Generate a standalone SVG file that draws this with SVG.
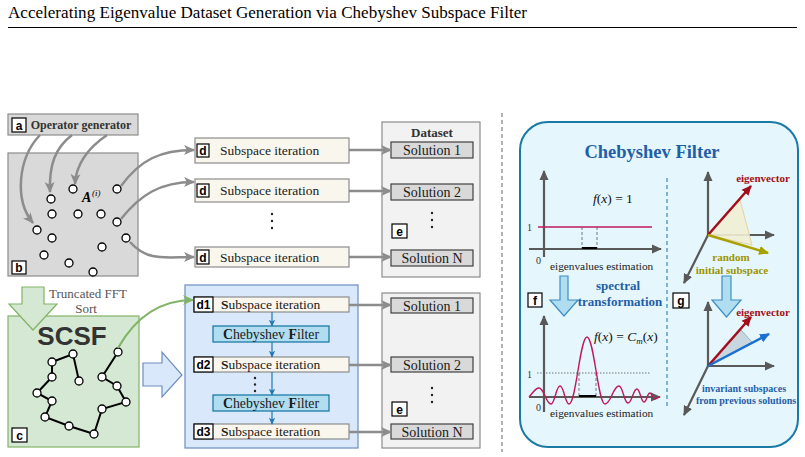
<svg xmlns="http://www.w3.org/2000/svg" width="805" height="457" viewBox="0 0 805 457">
<style>
.serif{font-family:"Liberation Serif","Times New Roman",serif}
.lbl rect{fill:#fff;stroke:#000;stroke-width:1.2}
.lbl text{font-family:"Liberation Sans",Arial,sans-serif;font-weight:bold;font-size:12px;fill:#000;text-anchor:middle}
.dbox{fill:#f9f7ed;stroke:#8c8c8c;stroke-width:1.2}
.sol{fill:#d9d9d9;stroke:#404040;stroke-width:1.2}
.ds{fill:#f2f2f2;stroke:#8c8c8c;stroke-width:1.2}
.txt{font-family:"Liberation Serif","Times New Roman",serif;font-size:13.5px;fill:#1a1a1a}
.soltxt{font-family:"Liberation Serif","Times New Roman",serif;font-size:14px;fill:#1a1a1a;text-anchor:middle}
.gar{fill:none;stroke:#8c8c8c;stroke-width:2.5}
.cf{fill:#b1ddf0;stroke:#10739e;stroke-width:1.2}
.node{fill:#fff;stroke:#000;stroke-width:1.3}
.ax{stroke:#595959;stroke-width:2.2;fill:none}
.bar{stroke:#1f77b4;stroke-width:1.2;fill:none}
.dot{fill:#222}
.small{font-family:"Liberation Serif","Times New Roman",serif;font-size:10px;fill:#333}
.est{font-family:"Liberation Serif","Times New Roman",serif;font-size:11.3px;fill:#222}
.math{font-family:"Liberation Serif","Times New Roman",serif;font-size:13.5px;fill:#111}
.bl{font-family:"Liberation Serif","Times New Roman",serif;font-weight:bold;fill:#1f5fa8;text-anchor:middle}
.red{font-family:"Liberation Serif","Times New Roman",serif;font-weight:bold;font-size:11px;fill:#a50d1a;text-anchor:middle}
.cft{font-family:"Liberation Serif","Times New Roman",serif;font-size:13.8px;fill:#1a1a1a;text-anchor:middle}
</style>
<defs>
<marker id="mg" markerUnits="userSpaceOnUse" markerWidth="11" markerHeight="11" viewBox="0 0 10 10" refX="9" refY="5" orient="auto"><path d="M0,0.5 L10,5 L0,9.5 L2.5,5 Z" fill="#8c8c8c"/></marker>
<marker id="mgr" markerUnits="userSpaceOnUse" markerWidth="11" markerHeight="11" viewBox="0 0 10 10" refX="9" refY="5" orient="auto"><path d="M0,0.5 L10,5 L0,9.5 L2.5,5 Z" fill="#82b366"/></marker>
<marker id="mb" markerUnits="userSpaceOnUse" markerWidth="7" markerHeight="7" viewBox="0 0 10 10" refX="9" refY="5" orient="auto"><path d="M0,0.5 L10,5 L0,9.5 L2.5,5 Z" fill="#1f77b4"/></marker>
<marker id="ma" markerUnits="userSpaceOnUse" markerWidth="10" markerHeight="10" viewBox="0 0 10 10" refX="9" refY="5" orient="auto"><path d="M0,0.5 L10,5 L0,9.5 Z" fill="#595959"/></marker>
<marker id="mr" markerUnits="userSpaceOnUse" markerWidth="10" markerHeight="10" viewBox="0 0 10 10" refX="9" refY="5" orient="auto"><path d="M0,0.5 L10,5 L0,9.5 Z" fill="#a50d1a"/></marker>
<marker id="mo" markerUnits="userSpaceOnUse" markerWidth="10" markerHeight="10" viewBox="0 0 10 10" refX="9" refY="5" orient="auto"><path d="M0,0.5 L10,5 L0,9.5 Z" fill="#a9a100"/></marker>
<marker id="mbl" markerUnits="userSpaceOnUse" markerWidth="10" markerHeight="10" viewBox="0 0 10 10" refX="9" refY="5" orient="auto"><path d="M0,0.5 L10,5 L0,9.5 Z" fill="#1c6fd1"/></marker>
</defs>
<rect width="805" height="457" fill="#fff"/>

<g id="title">
<text x="8" y="18" class="serif" font-size="16.5" fill="#000" textLength="519" lengthAdjust="spacingAndGlyphs">Accelerating Eigenvalue Dataset Generation via Chebyshev Subspace Filter</text>
<line x1="8" y1="27.5" x2="797" y2="27.5" stroke="#000" stroke-width="1"/>
</g>

<g id="node-a">
<rect x="8" y="114" width="130" height="21" fill="#d9d9d9" stroke="#8c8c8c" stroke-width="1.2"/>
<g class="lbl"><rect x="12" y="118" width="14" height="14"/><text x="19" y="129.5">a</text></g>
<text x="81" y="129" class="serif" font-size="12" font-weight="bold" fill="#333" text-anchor="middle">Operator generator</text>
</g>

<g id="node-b">
<rect x="8" y="153" width="130" height="123" fill="#d9d9d9" stroke="#8c8c8c" stroke-width="1.2"/>
<g class="lbl"><rect x="12" y="261" width="14" height="13"/><text x="19" y="272">b</text></g>
<text x="82" y="202" class="serif" font-size="14" font-weight="bold" font-style="italic" fill="#000">A</text>
<text x="92" y="196" class="serif" font-size="9" font-style="italic" fill="#000">(i)</text>
<g class="node">
<circle cx="73" cy="189" r="4"/><circle cx="51" cy="199" r="4"/><circle cx="117" cy="189" r="4"/>
<circle cx="52" cy="214" r="4"/><circle cx="78" cy="214" r="4"/><circle cx="101" cy="214" r="4"/>
<circle cx="117" cy="222" r="4"/><circle cx="37" cy="230" r="4"/><circle cx="52" cy="238" r="4"/>
<circle cx="126" cy="238" r="4"/><circle cx="102" cy="247" r="4"/><circle cx="44" cy="255" r="4"/>
<circle cx="69" cy="263" r="4"/><circle cx="93" cy="272" r="4"/>
</g>
</g>

<g id="node-c">
<rect x="8" y="316" width="131" height="131" fill="#d5e8d4" stroke="#82b366" stroke-width="1.2"/>
<g class="lbl"><rect x="12" y="428" width="15" height="14"/><text x="19.5" y="439.5">c</text></g>
<polyline points="118,352 102,377 117,386 126,402 102,409 94,434 69,426 45,417 52,401 37,393 52,377 52,362 73,354 79,381" fill="none" stroke="#000" stroke-width="2"/>
<g class="node">
<circle cx="118" cy="352" r="4"/><circle cx="102" cy="377" r="4"/><circle cx="117" cy="386" r="4"/>
<circle cx="126" cy="402" r="4"/><circle cx="102" cy="409" r="4"/><circle cx="94" cy="434" r="4"/>
<circle cx="69" cy="426" r="4"/><circle cx="45" cy="417" r="4"/><circle cx="52" cy="401" r="4"/>
<circle cx="37" cy="393" r="4"/><circle cx="52" cy="377" r="4"/><circle cx="52" cy="362" r="4"/>
<circle cx="73" cy="354" r="4"/><circle cx="79" cy="381" r="4"/>
</g>
<polygon points="22,287 44,287 44,304 57,304 33,330 9,304 22,304" fill="#d5e8d4" stroke="#82b366" stroke-width="1.2"/>
<text x="72" y="345" font-family="Liberation Sans,Arial,sans-serif" font-size="26" font-weight="bold" fill="#333" text-anchor="middle">SCSF</text>
<text x="88" y="298" class="serif" font-size="13" fill="#555" text-anchor="middle">Truncated FFT</text>
<text x="86" y="313" class="serif" font-size="13" fill="#555" text-anchor="middle">Sort</text>
</g>

<g id="node-d-top">
<rect class="dbox" x="195" y="138" width="154" height="25"/>
<g class="lbl"><rect x="197" y="144" width="12" height="13"/><text x="203" y="155">d</text></g>
<text class="txt" x="220" y="155">Subspace iteration</text>
<rect class="dbox" x="195" y="179" width="154" height="23"/>
<g class="lbl"><rect x="197" y="184" width="12" height="13"/><text x="203" y="195">d</text></g>
<text class="txt" x="220" y="195">Subspace iteration</text>
<circle class="dot" cx="272" cy="214" r="1.2"/><circle class="dot" cx="272" cy="221" r="1.2"/><circle class="dot" cx="272" cy="228" r="1.2"/>
<rect class="dbox" x="195" y="247" width="154" height="20"/>
<g class="lbl"><rect x="197" y="250" width="12" height="14"/><text x="203" y="261.5">d</text></g>
<text class="txt" x="220" y="262">Subspace iteration</text>
</g>

<g id="node-e-top">
<rect class="ds" x="382" y="122" width="98" height="155"/>
<text x="432" y="137" class="serif" font-size="13" font-weight="bold" fill="#333" text-anchor="middle">Dataset</text>
<rect class="sol" x="391" y="142" width="82" height="16"/><text class="soltxt" x="432" y="155">Solution 1</text>
<rect class="sol" x="391" y="184" width="82" height="16"/><text class="soltxt" x="432" y="197">Solution 2</text>
<circle class="dot" cx="432" cy="213" r="1.2"/><circle class="dot" cx="432" cy="220" r="1.2"/><circle class="dot" cx="432" cy="227" r="1.2"/>
<g class="lbl"><rect x="392" y="224" width="15" height="14"/><text x="399.5" y="235.5">e</text></g>
<rect class="sol" x="391" y="250" width="82" height="16"/><text class="soltxt" x="432" y="263">Solution N</text>
</g>

<g id="node-d-bottom">
<rect x="185" y="285" width="173" height="163" fill="#dae8fc" stroke="#6c8ebf" stroke-width="1.2"/>
<rect class="dbox" x="194" y="297" width="155" height="15"/>
<g class="lbl"><rect x="194" y="297" width="19" height="15"/><text x="203.5" y="309">d1</text></g>
<text class="txt" x="221" y="309"><tspan font-weight="bold">S</tspan>ubspace iteration</text>
<rect class="cf" x="213" y="326" width="116" height="16"/>
<text class="cft" x="271" y="338.5"><tspan font-weight="bold">C</tspan>hebyshev <tspan font-weight="bold">F</tspan>ilter</text>
<rect class="dbox" x="194" y="357" width="155" height="15"/>
<g class="lbl"><rect x="194" y="357" width="19" height="15"/><text x="203.5" y="369">d2</text></g>
<text class="txt" x="221" y="369"><tspan font-weight="bold">S</tspan>ubspace iteration</text>
<circle class="dot" cx="255" cy="378" r="1.2"/><circle class="dot" cx="255" cy="384.5" r="1.2"/><circle class="dot" cx="255" cy="391" r="1.2"/>
<rect class="cf" x="213" y="395" width="116" height="16"/>
<text class="cft" x="271" y="407.5"><tspan font-weight="bold">C</tspan>hebyshev <tspan font-weight="bold">F</tspan>ilter</text>
<rect class="dbox" x="194" y="424" width="155" height="15"/>
<g class="lbl"><rect x="194" y="424" width="19" height="15"/><text x="203.5" y="436">d3</text></g>
<text class="txt" x="221" y="436"><tspan font-weight="bold">S</tspan>ubspace iteration</text>
</g>

<g id="node-e-bottom">
<rect class="ds" x="382" y="293" width="98" height="155"/>
<rect class="sol" x="391" y="298" width="82" height="15"/><text class="soltxt" x="432" y="310.5">Solution 1</text>
<rect class="sol" x="391" y="357" width="82" height="15"/><text class="soltxt" x="432" y="369.5">Solution 2</text>
<circle class="dot" cx="432" cy="388" r="1.2"/><circle class="dot" cx="432" cy="395" r="1.2"/><circle class="dot" cx="432" cy="402" r="1.2"/>
<g class="lbl"><rect x="392" y="402" width="15" height="14"/><text x="399.5" y="413.5">e</text></g>
<rect class="sol" x="391" y="424" width="82" height="15"/><text class="soltxt" x="432" y="436.5">Solution N</text>
</g>

<g id="big-arrow">
<polygon points="143,363 162,363 162,352 182,375 162,397 162,386 143,386" fill="#dae8fc" stroke="#6c8ebf" stroke-width="1.2"/>
</g>

<line id="separator" x1="502" y1="113" x2="502" y2="452" stroke="#999" stroke-width="1.5" stroke-dasharray="4 3"/>

<g id="connectors">
<path class="gar" d="M40,135 C18,158 14,200 33,223" marker-end="url(#mg)"/>
<path class="gar" d="M72,135 C55,148 49,165 50,192" marker-end="url(#mg)"/>
<path class="gar" d="M107,135 C88,148 76,165 75,184" marker-end="url(#mg)"/>
<path class="gar" d="M121,186 C140,160 160,150 194,150" marker-end="url(#mg)"/>
<path class="gar" d="M121,219 C140,195 160,182 194,182" marker-end="url(#mg)"/>
<path class="gar" d="M130,242 C148,262 165,257 194,257" marker-end="url(#mg)"/>
<path d="M118,348 C135,318 160,300 193,300" fill="none" stroke="#82b366" stroke-width="2.2" marker-end="url(#mgr)"/>
<path class="gar" d="M349,150 L391,150" marker-end="url(#mg)"/>
<path class="gar" d="M349,191 L391,191" marker-end="url(#mg)"/>
<path class="gar" d="M349,257 L391,257" marker-end="url(#mg)"/>
<path class="gar" d="M349,305 L391,305" marker-end="url(#mg)"/>
<path class="gar" d="M349,365 L391,365" marker-end="url(#mg)"/>
<path class="gar" d="M349,432 L391,432" marker-end="url(#mg)"/>
<path class="bar" d="M272,312 L272,326" marker-end="url(#mb)"/>
<path class="bar" d="M272,342 L272,357" marker-end="url(#mb)"/>
<path class="bar" d="M272,372 L272,395" marker-end="url(#mb)"/>
<path class="bar" d="M272,411 L272,424" marker-end="url(#mb)"/>
</g>

<g id="panel">
<rect x="520" y="122" width="278" height="325" rx="28" fill="#e5f6fd" stroke="#1a7aa5" stroke-width="2"/>
<text class="bl" x="652" y="158" font-size="18.5">Chebyshev Filter</text>
<line x1="667" y1="178" x2="667" y2="407" stroke="#5a9fc4" stroke-width="1.5" stroke-dasharray="4 3"/>
</g>

<g id="plot-top">
<line x1="544" y1="257" x2="544" y2="171" class="ax" marker-end="url(#ma)"/>
<line x1="529" y1="249" x2="661" y2="249" class="ax" marker-end="url(#ma)"/>
<line x1="538" y1="227" x2="652" y2="227" stroke="#c2185b" stroke-width="1.3"/>
<line x1="582" y1="227" x2="582" y2="249" stroke="#555" stroke-width="0.8" stroke-dasharray="3 2"/>
<line x1="597" y1="227" x2="597" y2="249" stroke="#555" stroke-width="0.8" stroke-dasharray="3 2"/>
<line x1="582" y1="248" x2="597" y2="248" stroke="#000" stroke-width="2"/>
<text class="small" x="527" y="231">1</text>
<text class="small" x="536" y="264">0</text>
<text class="est" x="550" y="270">eigenvalues estimation</text>
<text class="math" x="593" y="203"><tspan font-style="italic">f</tspan>(<tspan font-style="italic">x</tspan>) = 1</text>
</g>

<g id="plot-bottom">
<line x1="544" y1="412" x2="544" y2="316" class="ax" marker-end="url(#ma)"/>
<line x1="529" y1="397" x2="660" y2="397" class="ax" marker-end="url(#ma)"/>
<line x1="537" y1="373" x2="651" y2="373" stroke="#555" stroke-width="0.8" stroke-dasharray="1.5 1.5"/>
<line x1="579" y1="373" x2="579" y2="397" stroke="#555" stroke-width="0.8" stroke-dasharray="3 2"/>
<line x1="596" y1="373" x2="596" y2="397" stroke="#555" stroke-width="0.8" stroke-dasharray="3 2"/>
<line x1="579" y1="396" x2="596" y2="396" stroke="#000" stroke-width="2"/>
<path d="M529,397 C533,393 535,388 539,388 C544,388 546,404 551,404 C555,404 556,386 560,386 C564,386 565,404 569,404 C576,404 580,337 587,337 C594,337 598,404 605,404 C611,404 613,386 619,386 C623,386 624,403 628,403 C632,403 633,389 637,389 C640,389 641,402 644,402 C647,402 647,393 650,393 C652,393 653,399 655,399 C657,399 658,397 659,397" fill="none" stroke="#c0185a" stroke-width="1.4"/>
<text class="small" x="527" y="378">1</text>
<text class="small" x="536" y="411">0</text>
<text class="est" x="550" y="417">eigenvalues estimation</text>
<text class="math" x="594" y="341"><tspan font-style="italic">f</tspan>(<tspan font-style="italic">x</tspan>) = <tspan font-style="italic">C</tspan><tspan font-style="italic" font-size="9" dy="2.5">m</tspan><tspan dy="-2.5">(</tspan><tspan font-style="italic">x</tspan>)</text>
</g>

<g id="transform">
<polygon points="560,276 568,276 568,300 578,300 564,316 550,300 560,300" fill="#b1ddf0" stroke="#3d8ec4" stroke-width="1.2"/>
<polygon points="722,276 731,276 731,300 741,300 726.5,317 712,300 722,300" fill="#b1ddf0" stroke="#3d8ec4" stroke-width="1.2"/>
<text class="bl" x="618" y="290" font-size="13">spectral</text>
<text class="bl" x="620" y="306" font-size="13">transformation</text>
<g class="lbl"><rect x="528" y="293" width="14" height="14"/><text x="535" y="304.5" font-size="13">f</text></g>
<g class="lbl"><rect x="673" y="293" width="16" height="15"/><text x="681" y="304.5" font-size="13">g</text></g>
</g>

<g id="vectors-top">
<line x1="708" y1="235" x2="708" y2="172" class="ax" marker-end="url(#ma)"/>
<line x1="708" y1="235" x2="774" y2="235" class="ax" marker-end="url(#ma)"/>
<line x1="708" y1="235" x2="684" y2="283" class="ax" marker-end="url(#ma)"/>
<polygon points="708,235 740,200 752,245" fill="#f1eed4" fill-opacity="0.9" stroke="#e3d4a0" stroke-width="1"/>
<line x1="708" y1="235" x2="751" y2="186" stroke="#a50d1a" stroke-width="2.5" marker-end="url(#mr)"/>
<line x1="708" y1="235" x2="768" y2="253" stroke="#a9a100" stroke-width="2.5" marker-end="url(#mo)"/>
<text class="red" x="763" y="182">eigenvector</text>
<text x="731" y="261" class="serif" font-size="11" font-weight="bold" fill="#9c9400" text-anchor="middle">random</text>
<text x="732" y="274" class="serif" font-size="11" font-weight="bold" fill="#9c9400" text-anchor="middle">initial subspace</text>
</g>

<g id="vectors-bottom">
<line x1="708" y1="366" x2="708" y2="302" class="ax" marker-end="url(#ma)"/>
<line x1="708" y1="366" x2="774" y2="366" class="ax" marker-end="url(#ma)"/>
<line x1="708" y1="366" x2="684" y2="415" class="ax" marker-end="url(#ma)"/>
<polygon points="708,366 741,330 752,342" fill="#c8d6e0" stroke="#9cb2c2" stroke-width="1"/>
<line x1="708" y1="366" x2="751" y2="317" stroke="#a50d1a" stroke-width="2.5" marker-end="url(#mr)"/>
<line x1="708" y1="366" x2="769" y2="334" stroke="#1c6fd1" stroke-width="2.5" marker-end="url(#mbl)"/>
<text class="red" x="763" y="316">eigenvector</text>
<text class="bl" x="744" y="392" font-size="10">invariant subspaces</text>
<text class="bl" x="746" y="404" font-size="10">from previous solutions</text>
</g>
</svg>
